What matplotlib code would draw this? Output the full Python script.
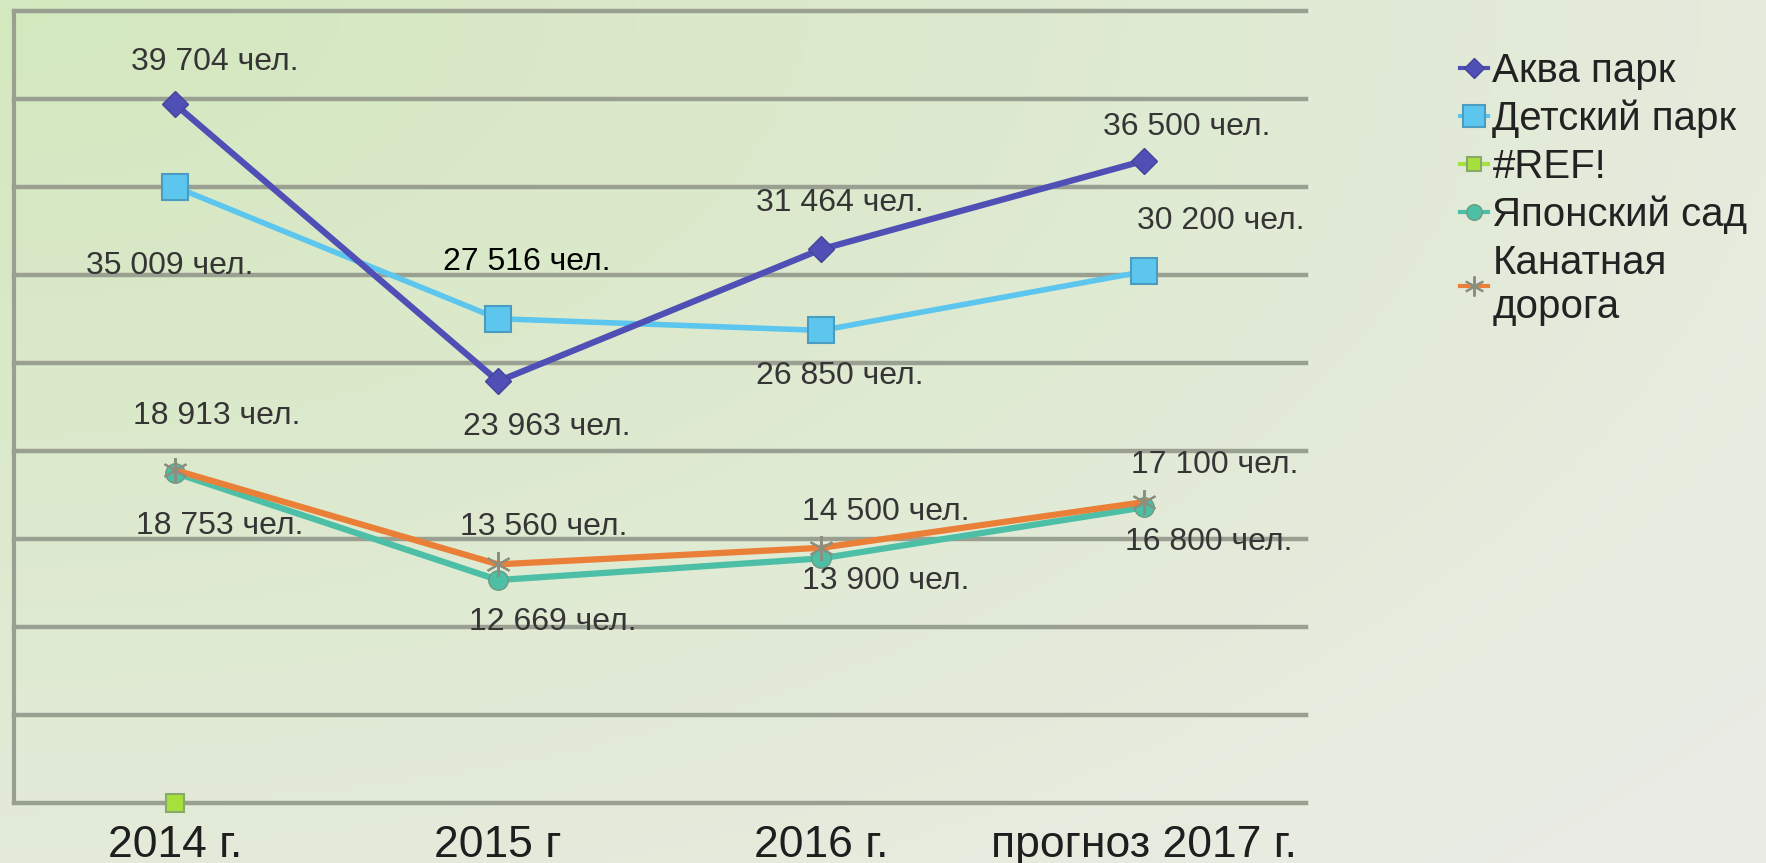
import numpy as np
import matplotlib
matplotlib.use("Agg")
import matplotlib.pyplot as plt

W, H, DPI = 1766, 863, 100
FONT = ["Liberation Sans", "DejaVu Sans"]
plt.rcParams["font.family"] = FONT

# ---- data ----
years = ["2014 г.", "2015 г", "2016 г.", "прогноз 2017 г."]
aqua = [39704, 23963, 31464, 36500]
kids = [35009, 27516, 26850, 30200]
ref_vals = [0, np.nan, np.nan, np.nan]
japan = [18753, 12669, 13900, 16800]
cable = [18913, 13560, 14500, 17100]
unit = " чел."

fig = plt.figure(figsize=(W / DPI, H / DPI), dpi=DPI)

# soft green gradient background
bg = fig.add_axes([0, 0, 1, 1], zorder=-10)
yy, xx = np.mgrid[0:1:200j, 0:1:400j]
t = np.clip(np.sqrt((xx * 1.0) ** 2 + (yy * 0.9) ** 2) / 1.25, 0, 1)
c0 = np.array([0.830, 0.910, 0.745])
c1 = np.array([0.915, 0.925, 0.895])
img = c0[None, None, :] * (1 - t[..., None]) + c1[None, None, :] * t[..., None]
bg.imshow(img[::-1], extent=[0, 1, 0, 1], aspect="auto", origin="lower")
bg.axis("off")

ax = fig.add_axes([13.5 / W, 1 - 803 / H, (1306 - 13.5) / W, (803 - 11) / H])
ax.patch.set_alpha(0)
x = np.arange(len(years))
ax.set_xlim(-0.5, 3.5)
ax.set_ylim(0, 45000)
ax.set_yticks(np.arange(0, 45001, 5000))
ax.yaxis.grid(True, color="#9aa091", lw=3.2, zorder=0)
for g in ax.get_ygridlines():
    g.set_clip_on(False)
ax.set_axisbelow(True)
ax.tick_params(axis="y", left=False, labelleft=False)
ax.tick_params(axis="x", bottom=False, pad=12, labelsize=32, colors="#1e1e1e")
ax.set_xticks(x)
ax.set_xticklabels(years)
for s in ["top", "right", "bottom"]:
    ax.spines[s].set_visible(False)
ax.spines["left"].set_color("#9aa091")
ax.spines["left"].set_linewidth(3)

la, = ax.plot(x, aqua, color="#4f4fb5", lw=4.5, marker="D", ms=13,
              mfc="#4f4fb5", mec="#44449a", zorder=5, label="Аква парк")
lk, = ax.plot(x, kids, color="#5cc6ee", lw=4, marker="s", ms=19,
              mfc="#5cc6ee", mec="#4a9cc0", mew=1.5, zorder=4,
              label="Детский парк")
lr, = ax.plot(x, ref_vals, color="#a6e03c", lw=3, marker="s", ms=13,
              mfc="#a6e03c", mec="#8aa86a", mew=1.5, zorder=6, label="#REF!",
              clip_on=False)
lj, = ax.plot(x, japan, color="#4dbfa6", lw=4.5, marker="o", ms=14,
              mfc="#4dbfa6", mec="#6c9a80", zorder=3, label="Японский сад")
lc, = ax.plot(x, cable, color="#ea8038", lw=4.5, marker=(6, 2, 0), ms=18,
              mec="#8a8f80", mew=1.5, zorder=3, label="Канатная\nдорога")

# data labels (offsets in pixels from the point)
LBL = dict(fontsize=23, color="#353535", ha="center", va="center",
           textcoords="offset pixels", zorder=8)
offs = {
    "aqua": [(40, 42), (49, -46), (18, 46), (42, 34)],
    "kids": [(-5, -79), (29, 57), (18, -46), (76, 50)],
    "cable": [(42, 54), (46, 37), (64, 36), (70, 37)],
    "japan": [(45, -53), (55, -42), (64, -23), (64, -35)],
}
series = {"aqua": aqua, "kids": kids, "cable": cable, "japan": japan}


def fmt(v):
    return f"{v:,}".replace(",", " ") + unit


for key, vals in series.items():
    for i, v in enumerate(vals):
        kw = dict(LBL)
        if key == "kids" and i == 1:
            kw["color"] = "black"
        ax.annotate(fmt(v), (x[i], v), xytext=offs[key][i], **kw)

leg = fig.legend(handles=[la, lk, lr, lj, lc], loc="upper left",
                 bbox_to_anchor=(1424 / W, 1 - 16 / H), frameon=False,
                 fontsize=29, handlelength=0.7, handletextpad=0.1,
                 labelspacing=0.24, markerscale=0.8, labelcolor="#222222")
for h in leg.legend_handles:
    h.set_linewidth(3)

fig.savefig("out.png", dpi=DPI)
